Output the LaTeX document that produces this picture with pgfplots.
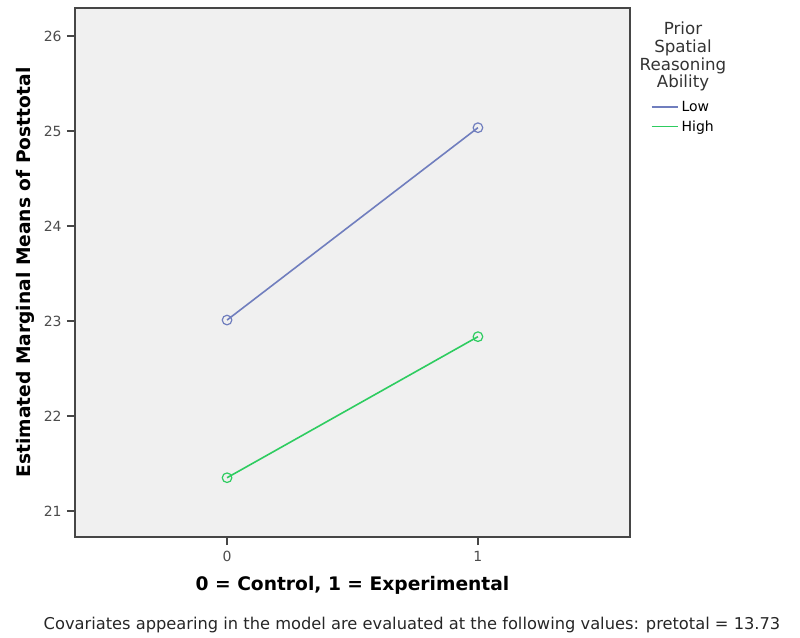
\documentclass[border=0pt]{standalone}
\usepackage{pgfplots}
\pgfplotsset{compat=1.18}
\usepackage{fontspec}
\setmainfont{DejaVu Sans}
\definecolor{lowc}{RGB}{112,126,190}
\definecolor{highc}{RGB}{46,204,96}
\definecolor{bgc}{RGB}{240,240,240}
\definecolor{framec}{RGB}{70,70,70}
\begin{document}
\begin{tikzpicture}[x=1pt,y=1pt]
\path[use as bounding box] (-56.25,6) rectangle (543.75,-471.75);
\begin{axis}[
  at={(0,0)}, anchor=north west,
  scale only axis,
  width=416.25pt, height=396.75pt,
  xmin=-0.606, xmax=1.606,
  ymin=20.726, ymax=26.295,
  axis background/.style={fill=bgc},
  axis line style={framec, line width=0.9pt},
  xtick={0,1}, ytick={21,22,23,24,25,26},
  tick align=outside,
  xtick pos=bottom, ytick pos=left,
  major tick length=6pt,
  tick style={framec, line width=0.9pt},
  /pgf/number format/assume math mode=true,
  ticklabel style={font=\fontsize{10.5}{12}\selectfont, text=black!70},
  xticklabel style={yshift=-1pt},
  yticklabel style={xshift=-0.5pt},
  xlabel={\textbf{0 = Control, 1 = Experimental}},
  ylabel={\textbf{Estimated Marginal Means of Posttotal}},
  label style={font=\fontsize{14}{16}\selectfont},
  xlabel style={at={(axis description cs:0.5,0)}, anchor=center, yshift=-36pt},
  ylabel style={at={(axis description cs:0,0.5)}, anchor=center, yshift=37.5pt},
  legend style={draw=none, fill=none, at={(axis description cs:1.037,0.794)}, anchor=west,
    font=\fontsize{10.5}{12}\selectfont, row sep=1.5pt, inner sep=0pt,
    legend cell align=left},
  legend image code/.code={\draw[#1, mark=none, line width=1.1pt] (0pt,0pt) -- (20pt,0pt);},
  clip=false,
]
\addplot[color=lowc, line width=1.2pt, mark=o, mark size=3.6pt, mark options={line width=0.9pt}] coordinates {(0,23.01) (1,25.035)};
\addlegendentry{Low}
\addplot[color=highc, line width=1.2pt, mark=o, mark size=3.6pt, mark options={line width=0.9pt}] coordinates {(0,21.35) (1,22.835)};
\addlegendentry{High}
\end{axis}
\node[align=center, font=\fontsize{12.5}{13.3}\selectfont, text=black!80, anchor=north] at (456,-7) {Prior\\Spatial\\Reasoning\\Ability};
\node[font=\fontsize{12.2}{14}\selectfont, text=black!85] at (252.75,-462.75) {Covariates appearing in the model are evaluated at the following values: pretotal = 13.73};
\end{tikzpicture}
\end{document}
